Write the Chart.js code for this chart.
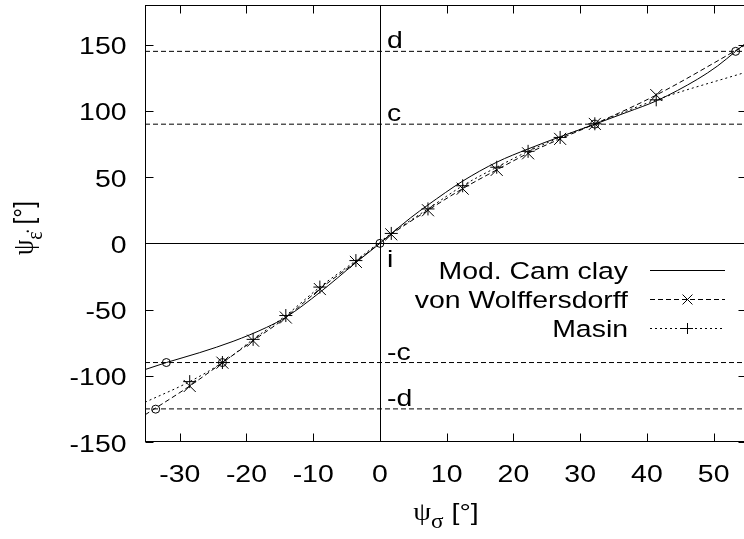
<!DOCTYPE html>
<html>
<head>
<meta charset="utf-8">
<script src="https://cdn.jsdelivr.net/npm/chart.js@4"></script>
<style>
  html, body { margin: 0; padding: 0; background: #fff; overflow: hidden; }
  #wrap { width: 752px; height: 539px; }
</style>
</head>
<body>
<div id="wrap"><canvas id="chart" width="752" height="539"></canvas></div>
<script>
// Axis ranges and tick labels
const xMin = -35.2, xMax = 55;
const yMin = -150, yMax = 180;
const xTicks = [-30, -20, -10, 0, 10, 20, 30, 40, 50];
const yTicks = [-150, -100, -50, 0, 50, 100, 150];

// Mod. Cam clay (solid)
const camX = [-35.2, -32, -27, -22, -17, -14, -9, -3.6, 0, 1.7, 4.6, 7.2, 12.4, 17.5, 22.2, 27, 32.2, 37, 41.6, 47.6, 50.6, 53.3, 55];
const camY = [-95.3, -90, -82.5, -74, -63.5, -55.5, -37, -14.5, 0, 7.3, 19.3, 29, 47, 61.3, 71.3, 80.5, 90, 99, 108, 124, 134, 145, 152];

// von Wolffersdorff (dashed, x markers)
const wolfX = [-35.2, -28.5, -23.6, -19, -14.1, -9, -3.6, 1.7, 7.2, 12.4, 17.5, 22.2, 27, 32.2, 41.4, 55];
const wolfY = [-129.5, -107.7, -90.1, -73.5, -56, -34.5, -14, 6.8, 25, 41.3, 55.5, 68, 78.9, 90.2, 112, 150.5];

// Masin (dotted, + markers)
const masX = [-35.2, -28.5, -23.6, -19, -14.1, -9, -3.6, 1.7, 7.2, 12.4, 17.5, 22.2, 27, 32.2, 41.4, 55];
const masY = [-120, -104.4, -90, -72.5, -54.5, -33, -13, 7.5, 26, 43.5, 57.5, 69.5, 80, 90.3, 108.4, 129.5];

// Marked points (circles)
const ptX = [-33.6, -32, -23.6, 0, 32.2, 53.3];
const ptY = [-125.2, -90, -90, 0, 90, 145];

// Reference levels
const levelY = [145, 90, -90, -125];
const levelLabels = ['d', 'c', '-c', '-d'];
const originLabel = 'i';

const SANS = '"Liberation Sans", Arial, sans-serif';
const SERIF = '"Liberation Serif", "Times New Roman", serif';
const FS = 24.5;
const STRETCH = 1.16;

function series(xs, ys) {
    return xs.map((x, i) => ({ x: x, y: ys[i] }));
}

// no marker on the first and last point (they sit on the frame)
function innerRadius(r) {
    return ctx => (ctx.dataIndex === 0 || ctx.dataIndex === ctx.dataset.data.length - 1) ? 0 : r;
}

function drawText(ctx, str, x, y, align, font) {
    ctx.save();
    ctx.font = font;
    ctx.translate(x, y);
    ctx.scale(STRETCH, 1);
    ctx.textAlign = align;
    ctx.textBaseline = 'alphabetic';
    ctx.fillStyle = '#000';
    ctx.fillText(str, 0, 0);
    ctx.restore();
}

function drawMarker(ctx, style, r, x, y) {
    ctx.beginPath();
    if (style === 'crossRot') {
        const o = r * Math.SQRT1_2;
        ctx.moveTo(x - o, y - o); ctx.lineTo(x + o, y + o);
        ctx.moveTo(x - o, y + o); ctx.lineTo(x + o, y - o);
    } else if (style === 'cross') {
        ctx.moveTo(x - r, y); ctx.lineTo(x + r, y);
        ctx.moveTo(x, y - r); ctx.lineTo(x, y + r);
    }
    ctx.stroke();
}

// title made of pieces: [text, font, baseline shift]
function pieceWidth(ctx, pieces) {
    let w = 0;
    pieces.forEach(p => { ctx.font = p[1]; w += ctx.measureText(p[0]).width; });
    return w;
}
function drawPieces(ctx, pieces) {
    let w = pieceWidth(ctx, pieces);
    let x = -w / 2;
    pieces.forEach(p => {
        ctx.font = p[1];
        ctx.fillText(p[0], x, p[2]);
        x += ctx.measureText(p[0]).width;
    });
}

const gnuplotFrame = {
    id: 'gnuplotFrame',
    beforeDatasetsDraw(chart) {
        const ctx = chart.ctx, a = chart.chartArea;
        const xs = chart.scales.x, ys = chart.scales.y;
        ctx.save();
        ctx.strokeStyle = '#000';
        ctx.lineWidth = 1;
        // zero axes
        const x0 = Math.round(xs.getPixelForValue(0)) + 0.5;
        const y0 = Math.round(ys.getPixelForValue(0)) + 0.5;
        ctx.beginPath();
        ctx.moveTo(x0, a.top); ctx.lineTo(x0, a.bottom);
        ctx.moveTo(a.left, y0); ctx.lineTo(a.right, y0);
        ctx.stroke();
        ctx.restore();
    },
    afterDraw(chart) {
        const ctx = chart.ctx, a = chart.chartArea;
        const xs = chart.scales.x, ys = chart.scales.y;
        const L = Math.round(a.left) + 0.5, R = Math.round(a.right) - 0.5;
        const T = Math.round(a.top) + 0.5, B = Math.round(a.bottom) - 0.5;
        const tl = 8;
        ctx.save();
        ctx.strokeStyle = '#000';
        ctx.lineWidth = 1;
        ctx.strokeRect(L, T, R - L, B - T);

        // inward ticks, mirrored
        ctx.beginPath();
        xs.ticks.forEach(t => {
            const px = Math.round(xs.getPixelForValue(t.value)) + 0.5;
            ctx.moveTo(px, B); ctx.lineTo(px, B - tl);
            ctx.moveTo(px, T); ctx.lineTo(px, T + tl);
        });
        ys.ticks.forEach(t => {
            const py = Math.round(ys.getPixelForValue(t.value)) + 0.5;
            ctx.moveTo(L, py); ctx.lineTo(L + tl, py);
            ctx.moveTo(R, py); ctx.lineTo(R - tl, py);
        });
        ctx.stroke();

        // tick labels
        const font = FS + 'px ' + SANS;
        xs.ticks.forEach(t => {
            drawText(ctx, String(t.value), xs.getPixelForValue(t.value), a.bottom + 39.5, 'center', font);
        });
        ys.ticks.forEach(t => {
            drawText(ctx, String(t.value), a.left - 18.5, ys.getPixelForValue(t.value) + 9.5, 'right', font);
        });

        // level labels
        const x0 = xs.getPixelForValue(0);
        levelY.forEach((v, i) => {
            drawText(ctx, levelLabels[i], x0 + 7, ys.getPixelForValue(v) - 3, 'left', font);
        });
        drawText(ctx, originLabel, x0 + 7, ys.getPixelForValue(0) + 24, 'left', font);

        // axis titles
        ctx.fillStyle = '#000';
        ctx.textAlign = 'left';
        ctx.textBaseline = 'alphabetic';
        const xTitle = [['\u03C8', FS + 'px ' + SERIF, 0], ['\u03C3', '20px ' + SERIF, 8], [' [\u00B0]', FS + 'px ' + SANS, 0]];
        ctx.save();
        ctx.translate((a.left + a.right) / 2, 520);
        ctx.scale(STRETCH, 1);
        drawPieces(ctx, xTitle);
        ctx.restore();

        const yTitle = [['\u03C8', FS + 'px ' + SERIF, 0], ['\u03B5\u0307', '20px ' + SERIF, 8], [' [\u00B0]', FS + 'px ' + SANS, 0]];
        ctx.save();
        ctx.translate(33, 228);
        ctx.scale(STRETCH, 1);
        ctx.rotate(-Math.PI / 2);
        drawPieces(ctx, yTitle);
        ctx.restore();

        // legend, gnuplot style: text right-aligned, sample on the right
        let row = 269.5;
        chart.data.datasets.filter(d => d.inLegend).forEach(d => {
            drawText(ctx, d.label, 628, row + 9, 'right', font);
            ctx.save();
            ctx.strokeStyle = '#000';
            ctx.lineWidth = 1;
            ctx.setLineDash(d.borderDash || []);
            ctx.beginPath();
            ctx.moveTo(650, Math.round(row) + 0.5);
            ctx.lineTo(725, Math.round(row) + 0.5);
            ctx.stroke();
            ctx.setLineDash([]);
            if (d.legendMarker) drawMarker(ctx, d.pointStyle, d.legendMarker, 687.5, Math.round(row) + 0.5);
            ctx.restore();
            row += 29.3;
        });
        ctx.restore();
    }
};

const levelSets = levelY.map(v => ({
    label: 'level ' + v,
    data: [{ x: xMin, y: v }, { x: xMax, y: v }],
    borderColor: '#000',
    borderWidth: 1,
    borderDash: [5, 3],
    pointRadius: 0
}));

new Chart(document.getElementById('chart'), {
    type: 'line',
    data: {
        datasets: [
            {
                label: 'Mod. Cam clay',
                data: series(camX, camY),
                borderColor: '#000',
                borderWidth: 1,
                pointRadius: 0,
                cubicInterpolationMode: 'monotone',
                inLegend: true
            },
            {
                label: 'von Wolffersdorff',
                data: series(wolfX, wolfY),
                borderColor: '#000',
                borderWidth: 1,
                borderDash: [5, 3],
                pointStyle: 'crossRot',
                pointRadius: innerRadius(8.5),
                pointBorderColor: '#000',
                pointBorderWidth: 1,
                cubicInterpolationMode: 'monotone',
                inLegend: true,
                legendMarker: 7
            },
            {
                label: 'Masin',
                data: series(masX, masY),
                borderColor: '#000',
                borderWidth: 1,
                borderDash: [2, 3],
                pointStyle: 'cross',
                pointRadius: innerRadius(6.5),
                pointBorderColor: '#000',
                pointBorderWidth: 1,
                cubicInterpolationMode: 'monotone',
                inLegend: true,
                legendMarker: 5.5
            },
            {
                label: 'points',
                data: series(ptX, ptY),
                showLine: false,
                pointStyle: 'circle',
                pointRadius: 4,
                pointBorderColor: '#000',
                pointBackgroundColor: 'transparent',
                pointBorderWidth: 1
            },
            ...levelSets
        ]
    },
    options: {
        responsive: false,
        animation: false,
        events: [],
        layout: { padding: { top: 4, right: 2, left: 0, bottom: 0 } },
        plugins: {
            legend: { display: false },
            tooltip: { enabled: false }
        },
        scales: {
            x: {
                type: 'linear',
                min: xMin,
                max: xMax,
                grid: { display: false },
                border: { display: false },
                ticks: { display: false },
                afterBuildTicks: s => { s.ticks = xTicks.map(v => ({ value: v })); },
                afterFit: s => { s.height = 97; }
            },
            y: {
                type: 'linear',
                min: yMin,
                max: yMax,
                grid: { display: false },
                border: { display: false },
                ticks: { display: false },
                afterBuildTicks: s => { s.ticks = yTicks.map(v => ({ value: v })); },
                afterFit: s => { s.width = 145; }
            }
        }
    },
    plugins: [gnuplotFrame]
});
</script>
</body>
</html>
